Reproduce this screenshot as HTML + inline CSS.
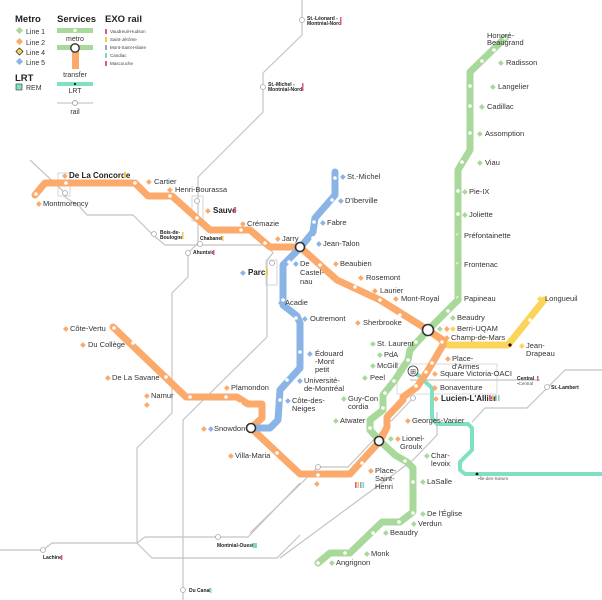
<!DOCTYPE html>
<html><head><meta charset="utf-8"><style>
html,body{margin:0;padding:0;background:#fff;}
svg{display:block;font-family:"Liberation Sans",sans-serif;}
.b{font-size:8px;font-weight:bold;fill:#222;}
.t{font-size:5px;font-weight:bold;fill:#222;}
.g{fill:none;stroke:#c4c4c4;stroke-width:1.2;}
</style></head><body>
<svg width="602" height="600" viewBox="0 0 602 600">
<!-- rail lines -->
<polyline class="g" points="302,0 302,35 263,73 263,112 205,170 198,177 198,243 188,253 188,277 172,293 172,413 137,448 137,543 152,558 277,558 300,535"/>
<polyline class="g" points="30,160 62,190 65,197 80,207 87,215 133,215 153,235 165,245 267,245 273,253 267,260 267,337 183,420 183,600"/>
<polyline class="g" points="0,550 43,550 52,543 137,543 145,537 218,537 248,537 300,483"/>
<polyline class="g" points="413,398 348,467 318,467 250,533"/>
<polyline class="g" points="437,412 437,435 413,460 280,558"/>
<polyline class="g" points="410,380 540,380"/>
<polyline class="g" points="472,422 485,408 527,408 565,370 602,370"/>
<rect x="397" y="364" width="100" height="30" fill="none" stroke="#ccc" stroke-width="0.7"/>
<rect x="58" y="173" width="12" height="23" fill="none" stroke="#ccc" stroke-width="0.8"/>
<rect x="192" y="196" width="11" height="25" fill="none" stroke="#ccc" stroke-width="0.8"/>
<rect x="266" y="260" width="11" height="25" fill="none" stroke="#ccc" stroke-width="0.8"/>
<g fill="#fff" stroke="#aaa" stroke-width="0.8">
<circle cx="65" cy="193" r="2.5"/><circle cx="197" cy="201" r="2.5"/><circle cx="154" cy="234" r="2.5"/>
<circle cx="200" cy="244" r="2.5"/><circle cx="188" cy="253" r="2.5"/><circle cx="272" cy="263" r="2.5"/>
<circle cx="302" cy="20" r="2.5"/><circle cx="263" cy="87" r="2.5"/><circle cx="43" cy="550" r="2.5"/>
<circle cx="218" cy="537" r="2.5"/><circle cx="183" cy="590" r="2.5"/><circle cx="318" cy="467" r="2.5"/>
<circle cx="413" cy="398" r="2.5"/><circle cx="547" cy="387" r="2.5"/>
</g>
<!-- lines -->
<g fill="none" stroke-width="7" stroke-linejoin="round" stroke-linecap="round">
<polyline stroke="#7fe0c4" stroke-width="4" points="418,375 432,388 432,418 437,424 468,424 472,428 472,450 460,462 460,470 465,474 602,474"/>
<polyline stroke="#fbd55a" points="428,330 448,345 508,345 544,300"/>
<polyline stroke="#a9d89b" points="505,38 470,72 470,150 458,170 458,300 428,330 410,350 408,360 395,380 383,395 383,410 370,420 370,430 380,441 395,455 407,462 413,468 413,512 400,522 382,522 350,553 330,553 318,563"/>
<polyline stroke="#fbaa6b" points="35,195 45,183 135,183 148,196 172,196 210,230 250,230 270,247 300,247 337,280 380,300 428,330 443,340 443,345 427,372 417,387 403,397 403,400 387,417 387,427 380,441 350,474 300,474 251,428 262,418 262,404 248,404 237,397 226,397 186,397 113,327"/>
<polyline stroke="#8ab4e5" points="335,172 335,195 315,218 313,232 300,248 283,265 283,305 297,316 300,323 300,368 280,390 278,420 270,428 251,428"/>
</g>
<!-- station dots -->
<g fill="#fff">
<circle cx="66" cy="183" r="1.8"/><circle cx="135" cy="183" r="1.8"/><circle cx="170" cy="196" r="1.8"/><circle cx="197" cy="218" r="1.8"/><circle cx="241" cy="230" r="1.8"/><circle cx="265" cy="243" r="1.8"/><circle cx="36" cy="194" r="1.8"/>
<circle cx="335" cy="178" r="1.8"/><circle cx="332" cy="200" r="1.8"/><circle cx="314" cy="222" r="1.8"/><circle cx="313" cy="238" r="1.8"/><circle cx="289" cy="262" r="1.8"/><circle cx="283" cy="300" r="1.8"/><circle cx="296" cy="318" r="1.8"/><circle cx="300" cy="352" r="1.8"/><circle cx="287" cy="380" r="1.8"/><circle cx="280" cy="400" r="1.8"/>
<circle cx="320" cy="265" r="1.8"/><circle cx="355" cy="287" r="1.8"/><circle cx="380" cy="300" r="1.8"/><circle cx="400" cy="315" r="1.8"/><circle cx="442" cy="342" r="1.8"/><circle cx="432" cy="363" r="1.8"/><circle cx="426" cy="372" r="1.8"/><circle cx="416" cy="386" r="1.8"/><circle cx="392" cy="423" r="1.8"/><circle cx="362" cy="463" r="1.8"/><circle cx="318" cy="475" r="1.8"/><circle cx="277" cy="453" r="1.8"/>
<circle cx="133" cy="343" r="1.8"/><circle cx="166" cy="377" r="1.8"/><circle cx="190" cy="397" r="1.8"/><circle cx="226" cy="397" r="1.8"/><circle cx="240" cy="404" r="1.8"/><circle cx="114" cy="328" r="1.8"/>
<circle cx="505" cy="38" r="1.8"/><circle cx="494" cy="50" r="1.8"/><circle cx="482" cy="61" r="1.8"/><circle cx="470" cy="86" r="1.8"/><circle cx="470" cy="106" r="1.8"/><circle cx="470" cy="133" r="1.8"/><circle cx="462" cy="162" r="1.8"/><circle cx="458" cy="191" r="1.8"/><circle cx="458" cy="214" r="1.8"/><circle cx="458" cy="235" r="1.8"/><circle cx="458" cy="264" r="1.8"/><circle cx="458" cy="298" r="1.8"/><circle cx="448" cy="311" r="1.8"/>
<circle cx="416" cy="342" r="1.8"/><circle cx="408" cy="360" r="1.8"/><circle cx="394" cy="381" r="1.8"/><circle cx="385" cy="393" r="1.8"/><circle cx="383" cy="408" r="1.8"/><circle cx="370" cy="428" r="1.8"/>
<circle cx="405" cy="461" r="1.8"/><circle cx="413" cy="482" r="1.8"/><circle cx="413" cy="513" r="1.8"/><circle cx="399" cy="522" r="1.8"/><circle cx="373" cy="533" r="1.8"/><circle cx="345" cy="553" r="1.8"/><circle cx="318" cy="563" r="1.8"/>
<circle cx="530" cy="320" r="1.8"/>
</g>
<circle cx="510" cy="345" r="1.6" fill="#111"/><circle cx="477" cy="474" r="1.4" fill="#111"/>
<g fill="#fff" stroke="#333" stroke-width="1.6">
<circle cx="300" cy="247" r="4.5"/><circle cx="428" cy="330" r="5.5"/><circle cx="251" cy="428" r="4.5"/><circle cx="379" cy="441" r="4.5"/>
</g>
<circle cx="413" cy="371" r="5" fill="#fff" stroke="#333" stroke-width="0.8"/>
<text x="413" y="374" font-size="7" text-anchor="middle" fill="#333">⊞</text>

<!-- legend -->
<text x="15" y="22" font-size="9.5" font-weight="bold" fill="#222">Metro</text>
<text x="15" y="81" font-size="9.5" font-weight="bold" fill="#222">LRT</text>
<g font-size="7" fill="#333">
<text x="26" y="34">Line 1</text><text x="26" y="45">Line 2</text><text x="26" y="55">Line 4</text><text x="26" y="65">Line 5</text><text x="26" y="90">REM</text>
</g>
<rect x="17" y="28" width="5" height="5" fill="#a9d89b" transform="rotate(45 19.5 30.5)"/>
<rect x="17" y="39" width="5" height="5" fill="#fbaa6b" transform="rotate(45 19.5 41.5)"/>
<rect x="17" y="49" width="5" height="5" fill="#fbd55a" stroke="#222" stroke-width="0.7" transform="rotate(45 19.5 51.5)"/>
<rect x="17" y="59" width="5" height="5" fill="#8ab4e5" transform="rotate(45 19.5 61.5)"/>
<rect x="16" y="84" width="6" height="6" fill="#7fe0c4" stroke="#333" stroke-width="0.6"/>
<text x="57" y="22" font-size="9.5" font-weight="bold" fill="#222">Services</text>
<rect x="57" y="28" width="36" height="5" fill="#a9d89b"/><circle cx="75" cy="30.5" r="1.6" fill="#fff"/>
<text x="75" y="41" font-size="7" fill="#333" text-anchor="middle">metro</text>
<rect x="57" y="45" width="36" height="5" fill="#a9d89b"/>
<rect x="72" y="50" width="7" height="19" fill="#fbaa6b"/>
<circle cx="75" cy="48" r="4.2" fill="#fff" stroke="#333" stroke-width="1.4"/>
<text x="75" y="77" font-size="7" fill="#333" text-anchor="middle">transfer</text>
<rect x="57" y="82" width="36" height="4" fill="#7fe0c4"/><circle cx="75" cy="84" r="1.1" fill="#111"/>
<text x="75" y="93" font-size="7" fill="#333" text-anchor="middle">LRT</text>
<line x1="57" y1="103" x2="93" y2="103" stroke="#bbb" stroke-width="1"/><circle cx="75" cy="103" r="2.5" fill="#fff" stroke="#aaa"/>
<text x="75" y="114" font-size="7" fill="#333" text-anchor="middle">rail</text>
<text x="105" y="22" font-size="9.5" font-weight="bold" fill="#222">EXO rail</text>
<g font-size="4.5" fill="#444">
<rect x="105" y="29" width="2" height="5" fill="#d95b8f"/><text x="110" y="33">Vaudreuil-Hudson</text>
<rect x="105" y="37" width="2" height="5" fill="#f6c84a"/><text x="110" y="41">Saint-Jérôme</text>
<rect x="105" y="45" width="2" height="5" fill="#8fa6cc"/><text x="110" y="49">Mont-Saint-Hilaire</text>
<rect x="105" y="53" width="2" height="5" fill="#7fd9c0"/><text x="110" y="57">Candiac</text>
<rect x="105" y="61" width="2" height="5" fill="#d95b8f"/><text x="110" y="65">Mascouche</text>
</g>
<!-- rail labels -->
<text class="t" x="307" y="20">St.-Léonard -</text><text class="t" x="307" y="25">Montréal-Nord</text><rect x="340" y="17" width="1.5" height="8" fill="#d95b8f"/>
<text class="t" x="268" y="86">St.-Michel -</text><text class="t" x="268" y="91">Montréal-Nord</text><rect x="302" y="83" width="1.5" height="8" fill="#d95b8f"/>
<text class="t" x="160" y="234">Bois-de-</text><text class="t" x="160" y="239">Boulogne</text><rect x="182" y="232" width="1.5" height="7" fill="#f6c84a"/>
<text class="t" x="200" y="240">Chabanel</text><rect x="222" y="236" width="1.5" height="5" fill="#f6c84a"/>
<text class="t" x="193" y="254">Ahuntsic</text><rect x="213" y="250" width="1.5" height="5" fill="#d95b8f"/>
<text class="t" x="43" y="559">Lachine</text><rect x="61" y="555" width="1.5" height="5" fill="#d95b8f"/>
<text class="t" x="217" y="547">Montréal-Ouest</text><rect x="253" y="543" width="4" height="5" fill="#7fd9c0"/>
<text class="t" x="189" y="592">Du Canal</text><rect x="210" y="588" width="1.5" height="5" fill="#7fd9c0"/>
<text class="t" x="517" y="380">Central</text><rect x="537" y="376" width="1.5" height="5" fill="#d95b8f"/>
<text x="517" y="385" font-size="4.5" fill="#555">▪Central</text>
<text class="t" x="551" y="389">St.-Lambert</text>
<text x="478" y="480" font-size="4.5" fill="#555">▪Île-des-Sœurs</text>
<!-- station labels -->
<g font-size="7.5" fill="#333">
<text x="146" y="184" fill="#fbaa6b">◆</text><text x="154" y="184">Cartier</text>
<text x="167" y="192" fill="#fbaa6b">◆</text><text x="175" y="192">Henri-Bourassa</text>
<text x="36" y="206" fill="#fbaa6b">◆</text><text x="43" y="206">Montmorency</text>
<text x="205" y="213" fill="#fbaa6b">◆</text>
<text x="240" y="226" fill="#fbaa6b">◆</text><text x="247" y="226">Crémazie</text>
<text x="275" y="241" fill="#fbaa6b">◆</text><text x="282" y="241">Jarry</text>
<text x="340" y="179" fill="#8ab4e5">◆</text><text x="347" y="179">St.-Michel</text>
<text x="338" y="203" fill="#8ab4e5">◆</text><text x="345" y="203">D'Iberville</text>
<text x="320" y="225" fill="#8ab4e5">◆</text><text x="327" y="225">Fabre</text>
<text x="316" y="246" fill="#8ab4e5">◆</text><text x="323" y="246">Jean-Talon</text>
<text x="293" y="266" fill="#8ab4e5">◆</text><text x="300" y="266">De</text><text x="300" y="275">Castel-</text><text x="300" y="284">nau</text>
<text x="240" y="275" fill="#8ab4e5">◆</text>
<text x="333" y="266" fill="#fbaa6b">◆</text><text x="340" y="266">Beaubien</text>
<text x="358" y="280" fill="#fbaa6b">◆</text><text x="366" y="280">Rosemont</text>
<text x="372" y="293" fill="#fbaa6b">◆</text><text x="380" y="293">Laurier</text>
<text x="393" y="301" fill="#fbaa6b">◆</text><text x="401" y="301">Mont-Royal</text>
<text x="355" y="325" fill="#fbaa6b">◆</text><text x="363" y="325">Sherbrooke</text>
<text x="278" y="305" fill="#8ab4e5">◆</text><text x="285" y="305">Acadie</text>
<text x="302" y="321" fill="#8ab4e5">◆</text><text x="310" y="321">Outremont</text>
<text x="307" y="356" fill="#8ab4e5">◆</text><text x="315" y="356">Édouard</text><text x="315" y="364">-Mont</text><text x="315" y="372">petit</text>
<text x="297" y="383" fill="#8ab4e5">◆</text><text x="304" y="383">Université-</text><text x="304" y="391">de-Montréal</text>
<text x="285" y="403" fill="#8ab4e5">◆</text><text x="292" y="403">Côte-des-</text><text x="292" y="411">Neiges</text>
<text x="63" y="331" fill="#fbaa6b">◆</text><text x="70" y="331">Côte-Vertu</text>
<text x="80" y="347" fill="#fbaa6b">◆</text><text x="88" y="347">Du Collège</text>
<text x="105" y="380" fill="#fbaa6b">◆</text><text x="112" y="380">De La Savane</text>
<text x="144" y="398" fill="#fbaa6b">◆</text><text x="151" y="398">Namur</text><text x="144" y="407" fill="#fbaa6b">◆</text>
<text x="224" y="390" fill="#fbaa6b">◆</text><text x="231" y="390">Plamondon</text>
<text x="201" y="431" fill="#fbaa6b">◆</text><text x="208" y="431" fill="#8ab4e5">◆</text><text x="214" y="431">Snowdon</text>
<text x="228" y="458" fill="#fbaa6b">◆</text><text x="235" y="458">Villa-Maria</text>
<text x="314" y="486" fill="#fbaa6b">◆</text>
<text x="368" y="473" fill="#fbaa6b">◆</text><text x="375" y="473">Place-</text><text x="375" y="481">Saint-</text><text x="375" y="489">Henri</text>
<rect x="355" y="482" width="1.6" height="6" fill="#d95b8f"/><rect x="357.5" y="482" width="1.6" height="6" fill="#f6c84a"/><rect x="360" y="482" width="1.6" height="6" fill="#8fa6cc"/><rect x="362.5" y="482" width="1.6" height="6" fill="#7fd9c0"/>
<text x="487" y="38">Honoré-</text><text x="487" y="45">Beaugrand</text>
<text x="498" y="65" fill="#a9d89b">◆</text><text x="506" y="65">Radisson</text>
<text x="490" y="89" fill="#a9d89b">◆</text><text x="498" y="89">Langelier</text>
<text x="479" y="109" fill="#a9d89b">◆</text><text x="487" y="109">Cadillac</text>
<text x="477" y="136" fill="#a9d89b">◆</text><text x="485" y="136">Assomption</text>
<text x="477" y="165" fill="#a9d89b">◆</text><text x="485" y="165">Viau</text>
<text x="462" y="194" fill="#a9d89b">◆</text><text x="469" y="194">Pie-IX</text>
<text x="462" y="217" fill="#a9d89b">◆</text><text x="469" y="217">Joliette</text>
<text x="456" y="238" fill="#a9d89b">◆</text><text x="464" y="238">Préfontainette</text>
<text x="456" y="267" fill="#a9d89b">◆</text><text x="464" y="267">Frontenac</text>
<text x="456" y="301" fill="#a9d89b">◆</text><text x="464" y="301">Papineau</text>
<text x="450" y="320" fill="#a9d89b">◆</text><text x="457" y="320">Beaudry</text>
<text x="437" y="331" fill="#a9d89b">◆</text><text x="444" y="331" fill="#fbaa6b">◆</text><text x="450" y="331" fill="#fbd55a">◆</text><text x="457" y="331">Berri-UQAM</text>
<text x="444" y="340" fill="#fbaa6b">◆</text><text x="451" y="340">Champ-de-Mars</text>
<text x="537" y="301" fill="#fbd55a">◆</text><text x="545" y="301">Longueuil</text>
<text x="519" y="348" fill="#fbd55a">◆</text><text x="526" y="348">Jean-</text><text x="526" y="356">Drapeau</text>
<text x="445" y="361" fill="#fbaa6b">◆</text><text x="452" y="361">Place-</text><text x="452" y="369">d'Armes</text>
<text x="432" y="376" fill="#fbaa6b">◆</text><text x="440" y="376">Square Victoria-OACI</text>
<text x="432" y="390" fill="#fbaa6b">◆</text><text x="440" y="390">Bonaventure</text>
<text x="433" y="401" fill="#fbaa6b">◆</text>
<text x="370" y="346" fill="#a9d89b">◆</text><text x="377" y="346">St. Laurent</text>
<text x="377" y="357" fill="#a9d89b">◆</text><text x="384" y="357">PdA</text>
<text x="370" y="368" fill="#a9d89b">◆</text><text x="377" y="368">McGill</text>
<text x="362" y="380" fill="#a9d89b">◆</text><text x="370" y="380">Peel</text>
<text x="341" y="401" fill="#a9d89b">◆</text><text x="348" y="401">Guy-Con</text><text x="348" y="409">cordia</text>
<text x="333" y="423" fill="#a9d89b">◆</text><text x="340" y="423">Atwater</text>
<text x="405" y="423" fill="#fbaa6b">◆</text><text x="412" y="423">Georges-Vanier</text>
<text x="388" y="441" fill="#a9d89b">◆</text><text x="395" y="441" fill="#fbaa6b">◆</text><text x="402" y="441">Lionel-</text><text x="400" y="449">Groulx</text>
<text x="424" y="458" fill="#a9d89b">◆</text><text x="431" y="458">Char-</text><text x="431" y="466">levoix</text>
<text x="420" y="484" fill="#a9d89b">◆</text><text x="427" y="484">LaSalle</text>
<text x="420" y="516" fill="#a9d89b">◆</text><text x="427" y="516">De l'Église</text>
<text x="411" y="526" fill="#a9d89b">◆</text><text x="418" y="526">Verdun</text>
<text x="383" y="535" fill="#a9d89b">◆</text><text x="390" y="535">Beaudry</text>
<text x="364" y="556" fill="#a9d89b">◆</text><text x="371" y="556">Monk</text>
<text x="329" y="565" fill="#a9d89b">◆</text><text x="336" y="565">Angrignon</text>
</g>
<text x="62" y="178" font-size="7.5" fill="#fbaa6b">◆</text><text x="69" y="178" class="b">De La Concorde</text><rect x="124" y="172" width="2" height="6" fill="#f6c84a"/>
<text x="213" y="213" class="b">Sauve</text><rect x="234" y="207" width="2" height="6" fill="#d95b8f"/>
<text x="248" y="275" class="b">Parc</text><rect x="266" y="269" width="2" height="6" fill="#f6c84a"/>
<text x="441" y="401" class="b">Lucien-L'Allier</text><rect x="489" y="395" width="1.6" height="6" fill="#d95b8f"/><rect x="492" y="395" width="1.6" height="6" fill="#f6c84a"/><rect x="495" y="395" width="1.6" height="6" fill="#8fa6cc"/><rect x="498" y="395" width="1.6" height="6" fill="#7fd9c0"/>
</svg>
</body></html>
